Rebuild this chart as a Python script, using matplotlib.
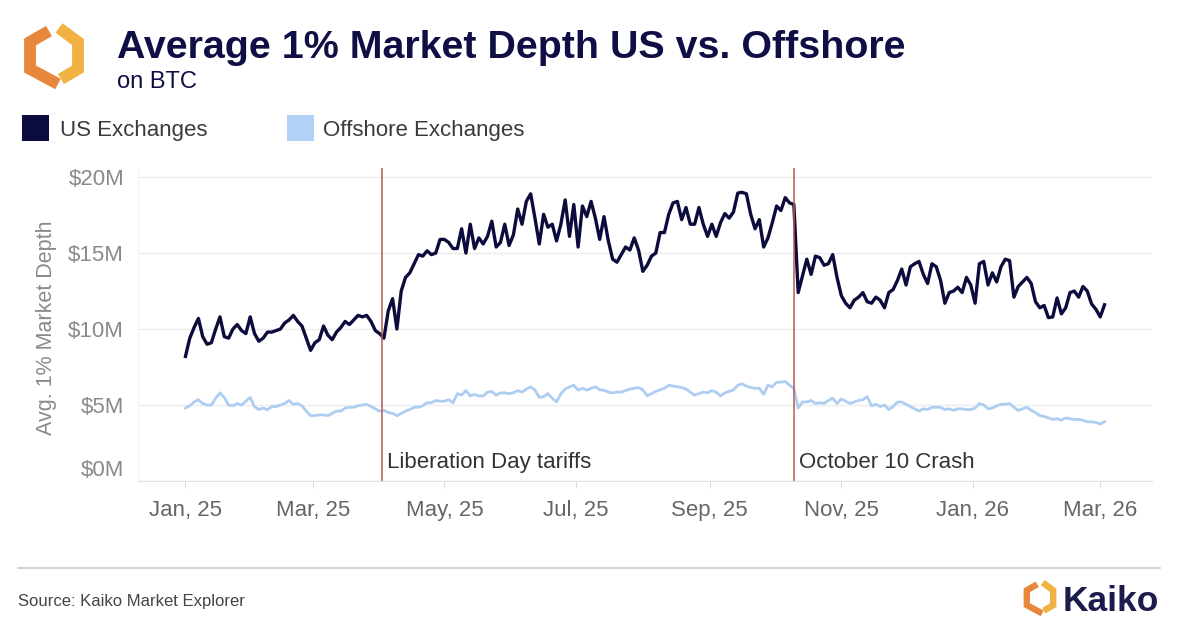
import matplotlib
matplotlib.use('Agg')
import matplotlib.pyplot as plt
import matplotlib.dates as mdates
from matplotlib.lines import Line2D
from matplotlib.patches import Rectangle
import pandas as pd

# one reading every 2 days, from 2025-01-01
start_date = '2025-01-01'
step = '2D'

# US exchanges, avg 1% market depth ($M)
us_depth = [
    8.2, 9.4, 10.1, 10.7, 9.5, 9.0, 9.1, 10.0, 10.8, 9.5,
    9.4, 10.0, 10.3, 9.9, 9.7, 10.8, 9.7, 9.2, 9.4, 9.8,
    9.8, 9.9, 10.0, 10.4, 10.6, 10.9, 10.5, 10.2, 9.4, 8.6,
    9.1, 9.3, 10.2, 9.6, 9.3, 9.8, 10.1, 10.5, 10.3, 10.6,
    10.9, 10.8, 10.9, 10.5, 9.9, 9.7, 9.4, 11.2, 12.0, 10.0,
    12.5, 13.4, 13.7, 14.3, 14.9, 14.8, 15.15, 14.9, 15.0, 15.9,
    15.9, 15.7, 15.3, 15.3, 16.6, 15.0, 16.9, 15.3, 16.0, 15.6,
    16.1, 17.1, 15.4, 15.7, 16.9, 15.5, 16.2, 17.9, 16.9, 18.4,
    18.9, 17.3, 15.6, 17.55, 16.7, 16.9, 15.8, 16.9, 18.5, 16.1,
    18.2, 15.4, 18.1, 17.4, 18.4, 17.3, 15.9, 17.4, 15.8, 14.6,
    14.4, 14.9, 15.4, 15.2, 16.0, 15.2, 13.8, 14.2, 14.8, 15.0,
    16.35, 16.35, 17.55, 18.3, 18.4, 17.2, 18.0, 16.9, 16.9, 18.0,
    16.9, 16.1, 16.9, 16.1, 17.0, 17.6, 17.3, 17.7, 18.95, 19.0,
    18.9, 17.55, 16.6, 17.2, 15.4, 16.0, 17.0, 18.1, 17.8, 18.65,
    18.3, 18.2, 12.4, 13.5, 14.6, 13.6, 14.8, 14.7, 14.2, 14.3,
    14.9, 13.4, 12.2, 11.7, 11.4, 11.9, 12.1, 12.4, 11.8, 11.7,
    12.1, 11.9, 11.4, 12.4, 12.6, 13.2, 13.95, 12.9, 14.1, 14.3,
    14.45, 13.6, 13.0, 14.3, 14.1, 13.2, 11.7, 12.4, 12.5, 12.75,
    12.4, 13.4, 12.9, 11.7, 14.3, 14.45, 12.9, 13.7, 13.1, 14.1,
    14.6, 14.5, 12.1, 12.8, 13.1, 13.4, 13.0, 11.8, 11.4, 11.55,
    10.75, 10.8, 12.05, 11.0, 11.4, 12.4, 12.5, 12.1, 12.8, 12.5,
    11.65, 11.3, 10.8, 11.6,
]

# offshore exchanges, avg 1% market depth ($M)
offshore_depth = [
    4.8, 4.95, 5.2, 5.35, 5.1, 5.0, 5.0, 5.45, 5.8, 5.5,
    5.0, 4.95, 5.1, 5.0, 5.25, 5.5, 4.9, 4.7, 4.8, 4.7,
    4.9, 4.9, 5.0, 5.1, 5.3, 5.05, 5.1, 4.95, 4.6, 4.3,
    4.3, 4.35, 4.35, 4.3, 4.45, 4.6, 4.6, 4.8, 4.85, 4.85,
    4.95, 5.0, 5.05, 4.9, 4.75, 4.6, 4.65, 4.5, 4.45, 4.3,
    4.45, 4.6, 4.7, 4.85, 4.85, 4.95, 5.15, 5.15, 5.3, 5.25,
    5.25, 5.35, 5.15, 5.75, 5.65, 5.95, 5.6, 5.7, 5.6, 5.6,
    5.85, 5.9, 5.65, 5.8, 5.8, 5.75, 5.8, 5.95, 5.85, 6.05,
    6.2, 5.98, 5.5, 5.55, 5.75, 5.45, 5.2, 5.75, 6.05, 6.2,
    6.3, 5.98, 6.1, 5.98, 6.1, 6.2, 6.0, 5.98, 5.85, 5.8,
    5.85, 5.85, 5.95, 6.05, 6.1, 6.15, 6.0, 5.6, 5.75, 5.9,
    6.0, 6.1, 6.3, 6.25, 6.2, 6.15, 6.05, 5.85, 5.65, 5.75,
    5.85, 5.8, 5.95, 5.85, 5.6, 5.8, 5.9, 6.0, 6.3, 6.4,
    6.25, 6.15, 6.1, 6.1, 5.7, 6.3, 6.2, 6.5, 6.5, 6.55,
    6.3, 6.1, 4.8, 5.2, 5.2, 5.3, 5.1, 5.15, 5.1, 5.3,
    5.45, 5.1, 5.4, 5.25, 5.1, 5.2, 5.3, 5.35, 5.55, 4.95,
    5.05, 4.9, 5.0, 4.7, 4.9, 5.2, 5.2, 5.05, 4.9, 4.75,
    4.6, 4.75, 4.7, 4.85, 4.85, 4.85, 4.7, 4.75, 4.65, 4.75,
    4.75, 4.7, 4.7, 4.8, 5.1, 5.0, 4.75, 4.8, 4.95, 5.05,
    5.05, 5.1, 4.85, 4.65, 4.75, 4.85, 4.65, 4.5, 4.3, 4.25,
    4.15, 4.05, 4.1, 4.0, 4.15, 4.1, 4.05, 4.05, 4.0, 3.9,
    3.9, 3.85, 3.75, 3.9,
]

events = ['2025-04-02', '2025-10-10']
event_labels = ['Liberation Day tariffs', 'October 10 Crash']
y_ticks = [0, 5, 10, 15, 20]

dates = pd.date_range(start_date, periods=len(us_depth), freq=step)

W, H = 1183, 636
plt.rcParams['font.family'] = ['Liberation Sans', 'DejaVu Sans']

NAVY = '#0c0b3d'
LIGHT = '#aecdf3'

fig = plt.figure(figsize=(W / 100, H / 100), dpi=100)
fig.patch.set_facecolor('white')


def fx(px):
    return px / W


def fy(py):
    return 1 - py / H


def draw_logo(cx, cy, s, lw):
    # two halves of the hexagon logo (pointy top/bottom), pixel units around (cx, cy)
    left = [(-5, -25), (-24, -14), (-24, 13), (4, 28)]
    right = [(5, -28), (24, -14), (24, 13), (7, 23)]
    for pts, col in [(left, '#e8873b'), (right, '#f2b143')]:
        xs = [fx(cx + s * p[0]) for p in pts]
        ys = [fy(cy + s * p[1]) for p in pts]
        fig.add_artist(Line2D(xs, ys, transform=fig.transFigure, color=col,
                              lw=lw, solid_joinstyle='miter', solid_capstyle='butt'))


# header
draw_logo(54, 56, 1.0, 8.5)
fig.text(fx(117), fy(58), 'Average 1% Market Depth US vs. Offshore', fontsize=28.4,
         fontweight='bold', color='#0f0e45', va='baseline', ha='left')
fig.text(fx(117), fy(88), 'on BTC', fontsize=17, color='#0f0e45', va='baseline', ha='left')

# legend
fig.add_artist(Rectangle((fx(22), fy(141)), fx(27), 26 / H, transform=fig.transFigure,
                         facecolor=NAVY, edgecolor='none'))
fig.text(fx(60), fy(136), 'US Exchanges', fontsize=16, color='#3a3a3a', va='baseline')
fig.add_artist(Rectangle((fx(287), fy(141)), fx(27), 26 / H, transform=fig.transFigure,
                         facecolor='#b3d1f6', edgecolor='none'))
fig.text(fx(323), fy(136), 'Offshore Exchanges', fontsize=16, color='#3a3a3a', va='baseline')

# chart
ax = fig.add_axes([fx(138), fy(481), fx(1152 - 138), (481 - 168) / H])
ax.plot(dates, offshore_depth, color=LIGHT, lw=2.0)
ax.plot(dates, us_depth, color=NAVY, lw=2.4)

for ev, lab in zip(events, event_labels):
    d = pd.Timestamp(ev)
    ax.axvline(d, color='#b85a52', lw=1.1)
    ax.annotate(lab, xy=(d, 1.2), xytext=(3.5, 0), textcoords='offset points',
                fontsize=16, color='#333333', va='center', ha='left')

ax.set_ylim(0, 20.6)
ax.set_xlim(pd.Timestamp('2024-12-10'), pd.Timestamp('2026-03-25'))
ax.set_yticks(y_ticks)
ax.set_yticklabels(['$%dM' % v for v in y_ticks])
ax.xaxis.set_major_locator(mdates.MonthLocator(bymonth=[1, 3, 5, 7, 9, 11]))
ax.xaxis.set_major_formatter(mdates.DateFormatter('%b, %y'))
ax.tick_params(axis='x', length=5, color='#dcdcdc', labelcolor='#666666', labelsize=16, pad=9)
ax.tick_params(axis='y', length=0, labelcolor='#8a8a8a', labelsize=16, pad=10)
ax.yaxis.grid(True, color='#ececec', lw=1)
ax.set_axisbelow(True)
for side in ['top', 'right']:
    ax.spines[side].set_visible(False)
ax.spines['left'].set_color('#f3f3f3')
ax.spines['bottom'].set_color('#e2e2e2')
ax.get_yticklabels()[0].set_va('bottom')

ax.set_ylabel('Avg. 1% Market Depth', fontsize=15.5, color='#8a8a8a')
ax.yaxis.set_label_coords((57 - 138) / (1152 - 138), 0.49)

# footer
fig.add_artist(Line2D([fx(18), fx(1160)], [fy(568), fy(568)], transform=fig.transFigure,
                      color='#cfcfcf', lw=1.3))
fig.text(fx(18), fy(606), 'Source: Kaiko Market Explorer', fontsize=12, color='#444444', va='baseline')
draw_logo(1040, 598, 0.55, 4.6)
fig.text(fx(1063), fy(611), 'Kaiko', fontsize=25.5, fontweight='bold', color='#1c1b4d', va='baseline')

fig.savefig('out.png', dpi=100)
